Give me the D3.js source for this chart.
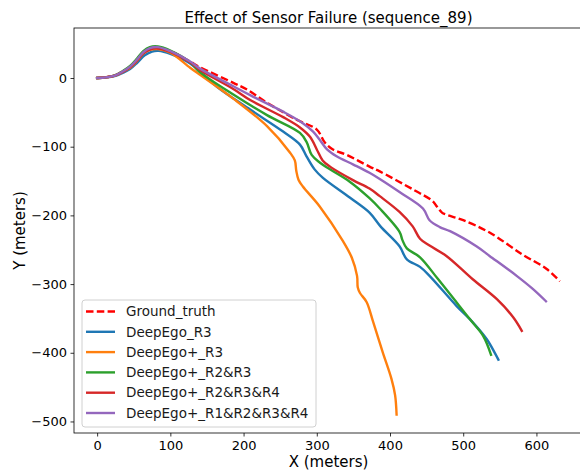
<!DOCTYPE html>
<html>
<head>
<meta charset="utf-8">
<script src="https://cdn.jsdelivr.net/npm/d3@7/dist/d3.min.js"></script>
<style>
  html, body { margin: 0; padding: 0; background: #fff; }
  svg { display: block; font-family: "DejaVu Sans", sans-serif; }
</style>
</head>
<body>
<svg id="chart" width="580" height="473"></svg>
<script>
// Trajectories in metres, [x, y] pairs
const groundTruth = [[0,0],[12,1],[24,3.5],[35,9.5],[45,16],[55,26.5],[63,36],[72,42.5],[83,44.5],[100,39],[127,24],[140,16],[186,-7],[205,-17],[232,-36],[273,-61],[300,-75],[311,-94],[322,-104],[341,-112],[372,-129],[386,-136],[431,-162],[458,-179],[464,-187],[471,-196],[477,-199],[500,-207],[536,-225],[581,-257],[614,-278],[632,-296]];
const deepEgoR3 = [[0,0],[12,0.8],[24,2.8],[35,7.5],[45,13],[55,22.5],[65,33],[75,38.5],[84,39.5],[100,35],[127,21],[164,-13],[209,-46],[254,-78],[277,-97],[286,-114],[297,-133],[308,-145],[345,-174],[372,-196],[387,-216],[413,-245],[423,-264],[441,-275],[454,-288],[491,-332],[509,-351],[532,-380],[548,-410]];
const deepEgoPlusR3 = [[0,0],[12,1],[24,3.5],[35,9],[45,15],[55,25.5],[63,35.5],[72,41],[83,42],[100,37],[127,15],[140,5],[186,-30],[232,-70],[263,-108],[270,-120],[272,-135],[275,-148],[281,-158],[304,-187],[336,-238],[348,-262],[355,-288],[356,-305],[359,-313],[368,-326],[377,-355],[390,-399],[402,-438],[407,-462],[409,-490]];
const deepEgoPlusR2R3 = [[0,0],[12,1],[24,3.8],[35,10],[45,17.5],[55,29],[63,39],[72,45],[83,46],[100,40],[127,23],[140,9],[186,-24],[232,-54],[277,-80],[286,-93],[293,-112],[304,-123],[318,-133],[345,-151],[372,-175],[386,-190],[413,-224],[417,-236],[423,-248],[441,-261],[465,-292],[509,-351],[527,-375],[538,-403]];
const deepEgoPlusR2R3R4 = [[0,0],[12,1],[24,3.5],[35,9],[45,15.5],[55,26],[63,36],[72,41.5],[83,43],[100,38],[127,23],[140,12],[186,-16],[209,-32],[254,-57],[277,-72],[291,-86],[300,-104],[308,-120],[318,-129],[350,-149],[372,-161],[386,-172],[413,-195],[431,-216],[441,-234],[454,-244],[477,-259],[513,-293],[546,-322],[568,-348],[580,-368]];
const deepEgoPlusR1R2R3R4 = [[0,0],[12,1],[24,3.5],[35,9.5],[45,16.5],[55,27.5],[63,37.5],[72,43.5],[83,45],[100,39],[127,24],[140,14],[186,-12],[209,-25],[254,-49],[280,-65],[295,-78],[304,-90],[314,-104],[327,-114],[350,-126],[372,-138],[386,-147],[413,-166],[445,-190],[454,-207],[468,-217],[482,-223],[518,-245],[536,-259],[573,-288],[595,-307],[613,-325]];

const seriesNames = ["Ground_truth", "DeepEgo_R3", "DeepEgo+_R3", "DeepEgo+_R2&R3", "DeepEgo+_R2&R3&R4", "DeepEgo+_R1&R2&R3&R4"];
const seriesData = [groundTruth, deepEgoR3, deepEgoPlusR3, deepEgoPlusR2R3, deepEgoPlusR2R3R4, deepEgoPlusR1R2R3R4];
const seriesColors = ["#ff0000", "#1f77b4", "#ff7f0e", "#2ca02c", "#d62728", "#9467bd"];
const seriesDashed = [true, false, false, false, false, false];

const xTicks = [0, 100, 200, 300, 400, 500, 600];
const yTicks = [0, -100, -200, -300, -400, -500];

const titleText = "Effect of Sensor Failure (sequence_89)";
const xLabel = "X (meters)";
const yLabel = "Y (meters)";

// Plot frame
const plot = { left: 74, top: 28, right: 583, bottom: 433 };

const allPts = seriesData.flat();
const xExt = d3.extent(allPts, d => d[0]);
const yExt = d3.extent(allPts, d => d[1]);
const xPad = (xExt[1] - xExt[0]) * 0.05;
const yPad = (yExt[1] - yExt[0]) * 0.05;

const x = d3.scaleLinear().domain([xExt[0] - xPad, xExt[1] + xPad]).range([plot.left, plot.right]);
const y = d3.scaleLinear().domain([yExt[0] - yPad, yExt[1] + yPad]).range([plot.bottom, plot.top]);

const svg = d3.select("#chart");

const clipId = "plot-clip";
svg.append("defs").append("clipPath").attr("id", clipId)
  .append("rect")
  .attr("x", plot.left).attr("y", plot.top)
  .attr("width", plot.right - plot.left).attr("height", plot.bottom - plot.top);

// Trajectory lines
const line = d3.line()
  .x(d => x(d[0]))
  .y(d => y(d[1]))
  .curve(d3.curveCatmullRom.alpha(0.5));

const lines = svg.append("g").attr("clip-path", `url(#${clipId})`);
seriesData.forEach((pts, i) => {
  lines.append("path")
    .datum(pts)
    .attr("d", line)
    .attr("fill", "none")
    .attr("stroke", seriesColors[i])
    .attr("stroke-width", 2.4)
    .attr("stroke-linejoin", "round")
    .attr("stroke-linecap", seriesDashed[i] ? "butt" : "square")
    .attr("stroke-dasharray", seriesDashed[i] ? "7.5,3.3" : null);
});

// Axes
const xAxis = d3.axisBottom(x).tickValues(xTicks).tickSize(3.5).tickPadding(3.5);
const yAxis = d3.axisLeft(y).tickValues(yTicks).tickSize(3.5).tickPadding(3.5);

const gx = svg.append("g").attr("transform", `translate(0,${plot.bottom})`).call(xAxis);
const gy = svg.append("g").attr("transform", `translate(${plot.left},0)`).call(yAxis);
[gx, gy].forEach(g => {
  g.select(".domain").remove();
  g.selectAll(".tick line").attr("stroke", "#000").attr("stroke-width", 0.8);
  g.selectAll(".tick text").attr("fill", "#000").style("font-size", "13px").style("font-family", "DejaVu Sans");
});
gx.selectAll(".tick text").attr("dy", "0.75em");

// Frame
svg.append("rect")
  .attr("x", plot.left).attr("y", plot.top)
  .attr("width", plot.right - plot.left).attr("height", plot.bottom - plot.top)
  .attr("fill", "none").attr("stroke", "#000").attr("stroke-width", 0.8);

// Title and axis labels
svg.append("text")
  .attr("x", (plot.left + plot.right) / 2).attr("y", 22.5)
  .attr("text-anchor", "middle")
  .style("font-size", "15px")
  .attr("fill", "#000")
  .text(titleText);

svg.append("text")
  .attr("x", (plot.left + plot.right) / 2).attr("y", 467)
  .attr("text-anchor", "middle")
  .style("font-size", "15px")
  .attr("fill", "#000")
  .text(xLabel);

svg.append("text")
  .attr("transform", `translate(25,${(plot.top + plot.bottom) / 2}) rotate(-90)`)
  .attr("text-anchor", "middle")
  .style("font-size", "15px")
  .attr("fill", "#000")
  .text(yLabel);

// Legend
const legend = svg.append("g").attr("transform", "translate(82,300)");
legend.append("rect")
  .attr("x", 0).attr("y", 0)
  .attr("width", 234).attr("height", 127)
  .attr("rx", 3).attr("ry", 3)
  .attr("fill", "#fff").attr("fill-opacity", 0.8)
  .attr("stroke", "#d0d0d0").attr("stroke-width", 1);

seriesNames.forEach((name, i) => {
  const cy = 11.5 + i * 20.3;
  legend.append("line")
    .attr("x1", 4).attr("x2", 33)
    .attr("y1", cy).attr("y2", cy)
    .attr("stroke", seriesColors[i])
    .attr("stroke-width", 2.4)
    .attr("stroke-dasharray", seriesDashed[i] ? "7.5,3.3" : null);
  legend.append("text")
    .attr("x", 44).attr("y", cy)
    .attr("dy", "0.35em")
    .style("font-size", "13.5px")
    .attr("fill", "#1a1a1a")
    .text(name);
});
</script>
</body>
</html>
